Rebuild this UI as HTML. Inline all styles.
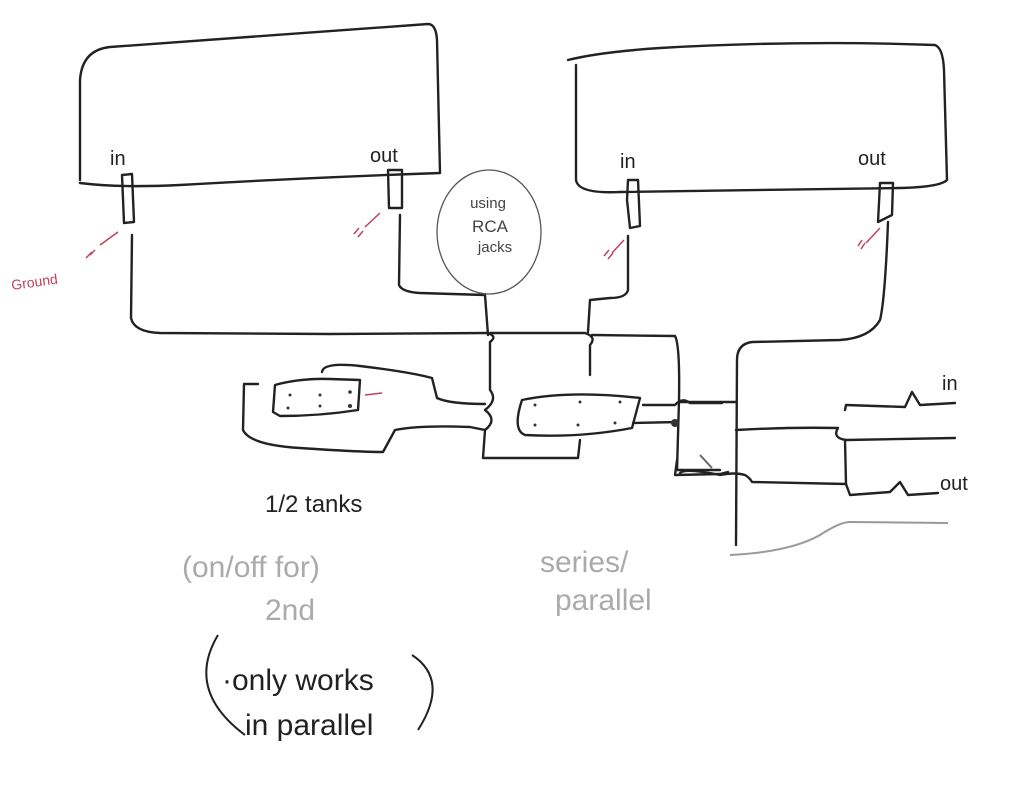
<!DOCTYPE html>
<html><head><meta charset="utf-8"><style>
html,body{margin:0;padding:0;background:#fff;width:1024px;height:809px;overflow:hidden}
svg{display:block}
text{font-family:"Liberation Sans",sans-serif}
</style></head><body>
<svg width="1024" height="809" viewBox="0 0 1024 809" xmlns="http://www.w3.org/2000/svg">
<g fill="none" stroke="#222" stroke-width="2.4" stroke-linecap="round" stroke-linejoin="round">
<!-- left box -->
<path d="M80,180 L80,80 Q82,50 110,47 Q270,35 428,24 Q436,24 437,40 L440,173 Q300,178 180,185 Q120,188 80,183"/>
<!-- right box -->
<path d="M568,60 Q600,52 660,48 Q800,40 935,45 Q943,48 944,70 L947,180 Q940,187 900,188 L620,192 Q578,194 576,180 L576,65"/>
<!-- jacks -->
<path d="M122,175 L132,174 L134,222 L124,223 Z"/>
<path d="M388,170 L402,170 L402,208 L389,208 Z"/>
<path d="M628,180 L638,180 L640,226 L630,228 L627,200 Z"/>
<path d="M880,183 L893,183 L892,215 L878,222 Z"/>
<!-- wires -->
<path d="M132,235 L131,318 Q134,332 160,333 L330,334 L487,333 Q498,336 490,342 L490,390 Q498,400 485,410 Q498,420 485,430 L483,458 L578,458 L580,440"/>
<path d="M490,333 L585,333 Q597,337 590,345 L590,375"/>
<path d="M592,335 L675,336 Q680,345 679,400 L677,470 L720,470"/>
<path d="M400,215 L399,285 Q402,292 420,293 L485,295 L488,335"/>
<path d="M628,236 L628,290 Q626,298 610,298 L590,300 L588,332"/>
<path d="M888,222 Q885,300 880,320 Q870,338 840,340 L752,342 Q737,344 737,360 L736,545"/>
<!-- left loop -->
<path d="M322,372 Q323,362 360,366 Q410,372 432,378 L437,398 Q450,404 485,404"/>
<path d="M258,384 L244,384 L243,430 Q250,445 300,448 Q360,452 383,452 L395,430 Q420,425 470,427 L485,430"/>
<path d="M275,385 Q300,378 330,379 L360,380 L358,410 Q320,416 280,416 L273,412 Z"/>
<!-- right switch -->
<path d="M522,400 Q570,390 640,398 L632,428 Q580,438 525,435 Q512,430 522,400 Z"/>
<path d="M643,405 L675,405 Q682,397 690,403 L722,403"/>
<path d="M633,423 L678,422"/>
<path d="M677,460 L675,475 L720,474 L728,472"/>
<!-- right side -->
<path d="M680,402 L736,402"/>
<path d="M736,430 Q790,427 838,428 Q832,438 846,440 L955,438"/>
<path d="M845,410 L846,405 L905,407 L912,392 L920,405 L955,403"/>
<path d="M845,440 L846,484 L850,495 L890,492 L900,482 L908,495 L938,493"/>
<path d="M680,473 Q685,468 720,475 Q735,472 745,475 Q750,478 752,482 L846,484"/>
</g>
<!-- grey lines -->
<g fill="none" stroke="#999" stroke-width="2">
<path d="M730,555 Q790,552 820,535 Q840,522 850,522 L948,523"/>
<path d="M700,455 L712,468" stroke="#666"/>
<ellipse cx="489" cy="232" rx="52" ry="62" stroke="#555" stroke-width="1.3"/>
</g>
<!-- dots on switches -->
<g fill="#333">
<circle cx="290" cy="395" r="1.5"/><circle cx="320" cy="395" r="1.5"/><circle cx="350" cy="392" r="1.8"/>
<circle cx="288" cy="408" r="1.5"/><circle cx="320" cy="406" r="1.5"/><circle cx="350" cy="406" r="2"/>
<circle cx="535" cy="405" r="1.5"/><circle cx="580" cy="402" r="1.5"/><circle cx="620" cy="402" r="1.5"/>
<circle cx="535" cy="425" r="1.5"/><circle cx="578" cy="425" r="1.5"/><circle cx="615" cy="423" r="1.5"/>
<circle cx="675" cy="423" r="4"/>
</g>
<!-- red marks -->
<g stroke="#c0405a" stroke-width="1.5" fill="none">
<path d="M100,245 L118,232"/><path d="M90,255 L95,250 M86,258 L92,252"/>
<path d="M365,227 L380,213"/><path d="M354,234 L359,228 M358,237 L363,231"/>
<path d="M612,253 L624,240"/><path d="M604,256 L609,250 M608,259 L613,253"/>
<path d="M866,243 L880,228"/><path d="M858,246 L862,240 M861,249 L865,243"/>
<path d="M365,395 L382,393"/>
</g>
<text x="12" y="290" font-size="14" fill="#c0405a" transform="rotate(-8 12 290)">Ground</text>
<!-- labels -->
<g fill="#222" font-size="20">
<text x="110" y="165">in</text>
<text x="370" y="162">out</text>
<text x="620" y="168">in</text>
<text x="858" y="165">out</text>
<text x="942" y="390">in</text>
<text x="940" y="490">out</text>
<text x="265" y="512" font-size="24">1/2 tanks</text>
</g>
<g fill="#444" font-size="15" text-anchor="middle">
<text x="488" y="208">using</text><text x="490" y="232" font-size="17">RCA</text><text x="495" y="252">jacks</text>
</g>
<g fill="#aaa" font-size="30">
<text x="182" y="577">(on/off for)</text>
<text x="265" y="620">2nd</text>
<text x="540" y="572">series/</text>
<text x="555" y="610">parallel</text>
</g>
<g fill="#222" font-size="30">
<text x="222" y="690">·only works</text>
<text x="245" y="735">in parallel</text>
</g>
<g fill="none" stroke="#222" stroke-width="2">
<path d="M218,635 Q185,690 245,735"/>
<path d="M412,655 Q450,680 418,730"/>
</g>
</svg>
</body></html>
